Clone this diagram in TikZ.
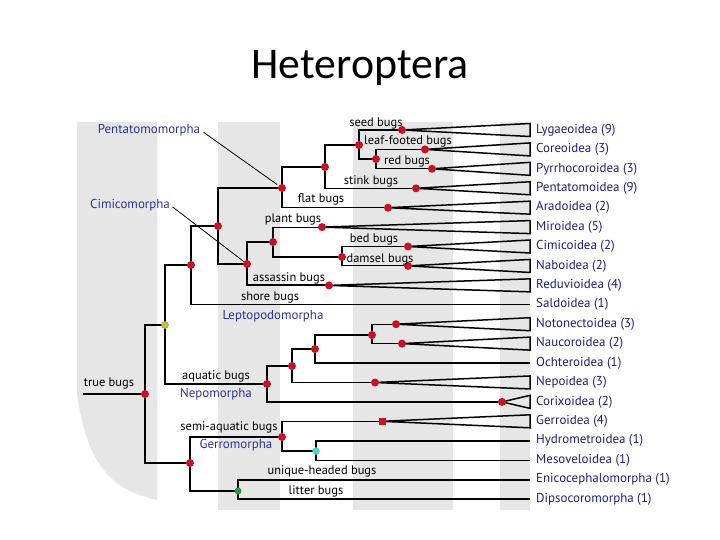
\documentclass[tikz,border=0pt]{standalone}
\usepackage{fontspec}
\setmainfont{PT Sans}
\newfontfamily\titlefont{Carlito}
\usetikzlibrary{positioning}

\definecolor{bugred}{RGB}{200,18,36}
\definecolor{bandgray}{RGB}{230,230,230}
\definecolor{taxblue}{RGB}{28,32,120}
\definecolor{cladeblue}{RGB}{44,52,155}
\definecolor{pangold}{RGB}{214,190,40}
\definecolor{gercyan}{RGB}{60,220,220}
\definecolor{litgreen}{RGB}{40,150,60}

\tikzset{
  br/.style={line width=1.1bp},
  brk/.style={line width=1.9bp},
  tri/.style={line width=1.5bp, line join=miter},
  dot/.style={circle, fill=bugred, inner sep=0pt, minimum size=8bp},
  lab/.style={font=\fontsize{12.5}{13}\selectfont, inner sep=0pt},
  clade/.style={lab, font=\fontsize{13}{14}\selectfont, text=cladeblue},
  taxon/.style={anchor=west, inner sep=0pt, font=\fontsize{13}{14}\selectfont, text=taxblue},
  lead/.style={line width=0.8bp},
  band/.style={fill=bandgray}
}

\begin{document}
\begin{tikzpicture}[x=1bp, y=-1bp]
  \useasboundingbox (0,0) rectangle (720,540);

  % Bandas grises de fondo
  \fill[band] (77,122) -- (157,122) -- (157,500) .. controls (100,488) and (86,450) .. (77,395) -- cycle;
  \fill[band] (218,122) rectangle (280,510);
  \fill[band] (353,122) rectangle (453,510);
  \fill[band] (500,122) rectangle (530,510);

  % Titulo
  \node[font=\titlefont\fontsize{44}{48}\selectfont] (title) at (360,68) {Heteroptera};

  % Puntas del arbol y nombres de superfamilias
  \foreach \i/\t in {1/Lygaeoidea (9), 2/Coreoidea (3), 3/Pyrrhocoroidea (3),
      4/Pentatomoidea (9), 5/Aradoidea (2), 6/Miroidea (5), 7/Cimicoidea (2),
      8/Naboidea (2), 9/Reduvioidea (4), 10/Saldoidea (1), 11/Notonectoidea (3),
      12/Naucoroidea (2), 13/Ochteroidea (1), 14/Nepoidea (3), 15/Corixoidea (2),
      16/Gerroidea (4), 17/Hydrometroidea (1), 18/Mesoveloidea (1),
      19/Enicocephalomorpha (1), 20/Dipsocoromorpha (1)} {
    \coordinate (t\i) at (530,{130+(\i-1)*19.42});
    \node[taxon, right=6bp of t\i] (l\i) {\t};
  }

  % Nodos internos
  \coordinate (root) at (83,394);
  \coordinate (tb) at (145,394);
  \coordinate (pan) at (165,325);
  \coordinate (cp) at (191,265);
  \coordinate (cimpen) at (218,226);
  \coordinate (pen) at (282,188);
  \coordinate (pen1) at (325,167);
  \coordinate (pen2) at (359,145);
  \coordinate (pen3) at (376,159);
  \coordinate (cim) at (247,264);
  \coordinate (cim1) at (273,242);
  \coordinate (cim2) at (342,257);
  \coordinate (nep) at (267,384);
  \coordinate (nep1) at (292,366);
  \coordinate (nep2) at (315,349);
  \coordinate (nep3) at (372,335);
  \coordinate (ger) at (190,463);
  \coordinate (ger1) at (282,437);
  \coordinate (ger2) at (316,451);
  \coordinate (lit) at (238,491);

  % Vertices de los triangulos
  \coordinate (seed) at (402,130);
  \coordinate (leaf) at (425,149.4);
  \coordinate (red) at (432,168.8);
  \coordinate (stink) at (416,188.3);
  \coordinate (flat) at (388,207.7);
  \coordinate (plant) at (322,227.1);
  \coordinate (bed) at (408,246.5);
  \coordinate (dams) at (408,265.9);
  \coordinate (assa) at (329,285.4);
  \coordinate (noto) at (396,324.2);
  \coordinate (nauc) at (402,343.6);
  \coordinate (nepo) at (375,382.5);
  \coordinate (cori) at (502,401.9);
  \coordinate (gerr) at (382,421.3);

  % Ramas
  \draw[br] (root) -- (tb);
  \draw[br] (tb) |- (pan);
  \draw[br] (tb) |- (ger);
  \draw[brk] (pan) |- (cp);
  \draw[br] (pan) |- (nep);
  \draw[brk] (cp) |- (cimpen);
  \draw[br] (cp) |- (t10);
  \draw[br] (cimpen) |- (pen);
  \draw[brk] (cimpen) |- (cim);
  \draw[br] (pen) |- (pen1);
  \draw[br] (pen) |- (flat);
  \draw[br] (pen1) |- (pen2);
  \draw[br] (pen1) |- (stink);
  \draw[brk] (pen2) |- (seed);
  \draw[brk] (pen2) |- (pen3);
  \draw[br] (pen3) |- (leaf);
  \draw[br] (pen3) |- (red);
  \draw[br] (cim) |- (cim1);
  \draw[brk] (cim) |- (assa);
  \draw[br] (cim1) |- (plant);
  \draw[br] (cim1) |- (cim2);
  \draw[br] (cim2) |- (bed);
  \draw[br] (cim2) |- (dams);
  \draw[br] (nep) |- (nep1);
  \draw[brk] (nep) |- (cori);
  \draw[br] (nep1) |- (nep2);
  \draw[br] (nep1) |- (nepo);
  \draw[br] (nep2) |- (nep3);
  \draw[brk] (nep2) |- (t13);
  \draw[br] (nep3) |- (noto);
  \draw[br] (nep3) |- (nauc);
  \draw[br] (ger) |- (ger1);
  \draw[br] (ger) |- (lit);
  \draw[br] (ger1) |- (gerr);
  \draw[br] (ger1) |- (ger2);
  \draw[brk] (ger2) |- (t17);
  \draw[br] (ger2) |- (t18);
  \draw[brk] (lit) |- (t19);
  \draw[br] (lit) |- (t20);

  % Triangulos de las superfamilias
  \foreach \a/\i in {seed/1, leaf/2, red/3, stink/4, flat/5, plant/6, bed/7,
      dams/8, assa/9, noto/11, nauc/12, nepo/14, cori/15, gerr/16}
    \draw[tri] (\a) -- ([yshift=6.5bp]t\i) -- ([yshift=-6.5bp]t\i) -- cycle;

  % Puntos de los nodos
  \foreach \c in {tb, cp, cimpen, pen, pen1, pen2, pen3, cim, cim1, cim2, nep,
      nep1, nep2, nep3, ger, ger1, seed, leaf, red, stink, flat, plant, bed,
      dams, assa, noto, nauc, nepo, cori}
    \node[dot] (d-\c) at (\c) {};
  \node[dot, fill=pangold, draw=black!50, line width=0.4bp, minimum size=7bp] (d-pan) at (pan) {};
  \node[dot, rectangle, minimum size=7bp] (d-gerr) at (gerr) {};
  \node[dot, fill=gercyan, draw=black!40, line width=0.3bp, minimum size=7bp] (d-ger2) at (ger2) {};
  \node[dot, fill=litgreen, minimum size=7bp] (d-lit) at (lit) {};

  % Nombres comunes
  \node[lab] (seedlab) at (376,123) {seed bugs};
  \node[lab] (leaflab) at (408,141) {leaf-footed bugs};
  \node[lab] (redlab) at (407,161) {red bugs};
  \node[lab] (stinklab) at (371,181) {stink bugs};
  \node[lab] (flatlab) at (321,199) {flat bugs};
  \node[lab] (plantlab) at (293,219) {plant bugs};
  \node[lab] (bedlab) at (374,239) {bed bugs};
  \node[lab] (damslab) at (380,259) {damsel bugs};
  \node[lab] (assalab) at (289,278) {assassin bugs};
  \node[lab] (shorelab) at (270,297) {shore bugs};
  \node[lab] (aqualab) at (216,376) {aquatic bugs};
  \node[lab] (semilab) at (229,427) {semi-aquatic bugs};
  \node[lab] (uniqlab) at (322,471) {unique-headed bugs};
  \node[lab] (littlab) at (316,491) {litter bugs};
  \node[lab] (truelab) at (109,383) {true bugs};

  % Infraordenes
  \node[clade] (pentlab) at (149,130) {Pentatomomorpha};
  \node[clade] (cimilab) at (130,205) {Cimicomorpha};
  \node[clade] (leptlab) at (273,316) {Leptopodomorpha};
  \node[clade] (nepolab) at (216,394) {Nepomorpha};
  \node[clade] (gerrlab) at (236,445) {Gerromorpha};
  \draw[lead, shorten <=4bp, shorten >=6bp] (pentlab.east) -- (pen);
  \draw[lead, shorten <=3bp, shorten >=4bp] (cimilab.east) -- (cim);
\end{tikzpicture}
\end{document}
